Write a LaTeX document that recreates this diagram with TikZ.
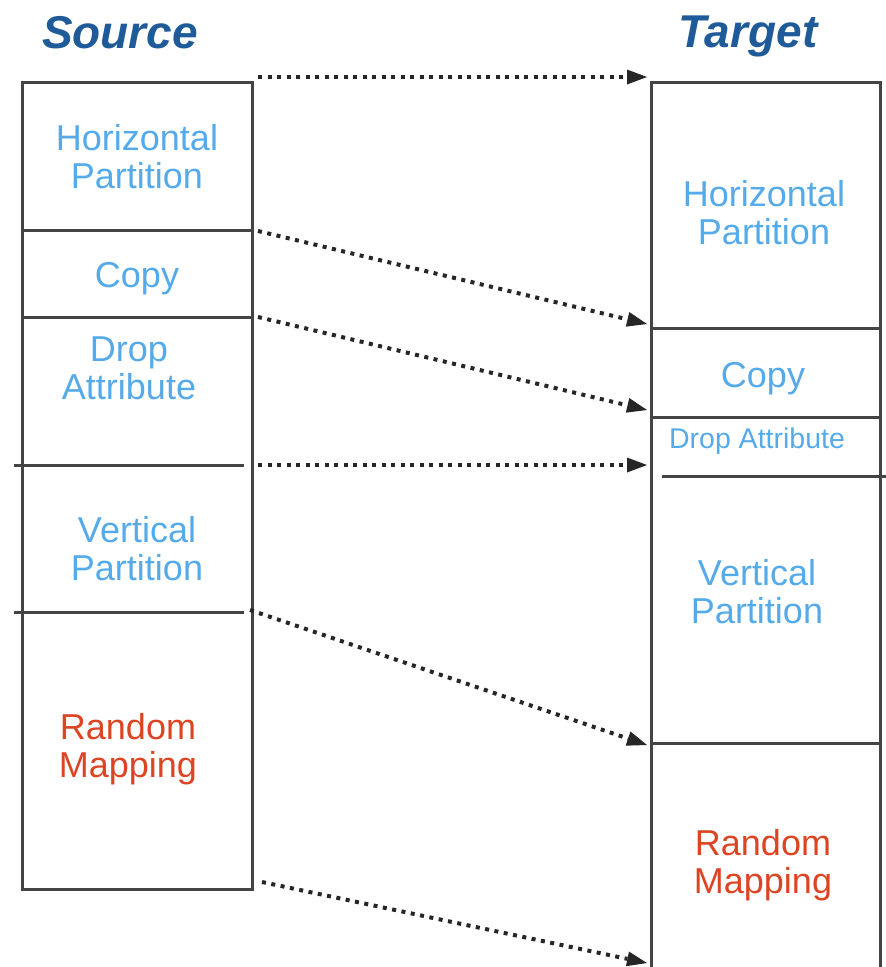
\documentclass[tikz,border=0pt]{standalone}
\usepackage{fontspec}
\setmainfont{Liberation Sans}
\usetikzlibrary{arrows.meta}
\definecolor{titleblue}{HTML}{1F5B99}
\definecolor{lblue}{HTML}{55AAEA}
\definecolor{lred}{HTML}{DC4423}
\definecolor{edge}{HTML}{444444}
\tikzset{
  frame/.style={draw=edge, line width=3pt},
  lbl/.style={text=lblue, font=\fontsize{36}{38}\selectfont, align=center, text depth=0pt, inner sep=0pt},
  rnd/.style={lbl, text=lred},
  small/.style={lbl, font=\fontsize{28.5}{30}\selectfont},
  title/.style={text=titleblue, font=\fontsize{46}{48}\selectfont\bfseries\itshape, text depth=0pt, inner sep=0pt},
  conn/.style={draw=black!85, line width=4pt, dash pattern=on 4pt off 5.5pt,
    -{Triangle[length=20pt,width=15pt,line width=0pt]}, shorten >=0pt}
}
\begin{document}
\begin{tikzpicture}[x=1pt,y=-1pt]
\useasboundingbox (0,0) rectangle (886,967);

% titles
\node[title] (src) at (120,32) {Source};
\node[title] (tgt) at (748,32) {Target};

% source column
\draw[frame] (22,82) rectangle (252,889);
\draw[frame] (22,230) -- (252,230);
\draw[frame] (22,317) -- (252,317);
\draw[frame] (14,465) -- (244,465);
\draw[frame] (14,612) -- (244,612);

% target column (open at the bottom)
\draw[frame] (651,975) -- (651,82) -- (880,82) -- (880,975);
\draw[frame] (651,328) -- (880,328);
\draw[frame] (651,417) -- (880,417);
\draw[frame] (662,476) -- (890,476);
\draw[frame] (651,743) -- (880,743);

% source labels
\node[lbl] (sh) at (137,156) {Horizontal\\Partition};
\node[lbl] (sc) at (137,275) {Copy};
\node[lbl] (sd) at (129,368) {Drop\\Attribute};
\node[lbl] (sv) at (137,548) {Vertical\\Partition};
\node[rnd] (sr) at (128,745) {Random\\Mapping};

% target labels
\node[lbl] (th) at (764,212) {Horizontal\\Partition};
\node[lbl] (tc) at (763,375) {Copy};
\node[small] (td) at (757,438) {Drop Attribute};
\node[lbl] (tv) at (757,591) {Vertical\\Partition};
\node[rnd] (tr) at (763,861) {Random\\Mapping};

% connector ends
\coordinate (a1) at (258,77);  \coordinate (b1) at (647,77);
\coordinate (a2) at (258,231); \coordinate (b2) at (647,324);
\coordinate (a3) at (258,317); \coordinate (b3) at (647,410);
\coordinate (a4) at (258,465); \coordinate (b4) at (647,465);
\coordinate (a5) at (250,610); \coordinate (b5) at (647,745);
\coordinate (a6) at (262,882); \coordinate (b6) at (647,963);

\foreach \i in {1,...,6} \draw[conn] (a\i) -- (b\i);
\end{tikzpicture}
\end{document}
